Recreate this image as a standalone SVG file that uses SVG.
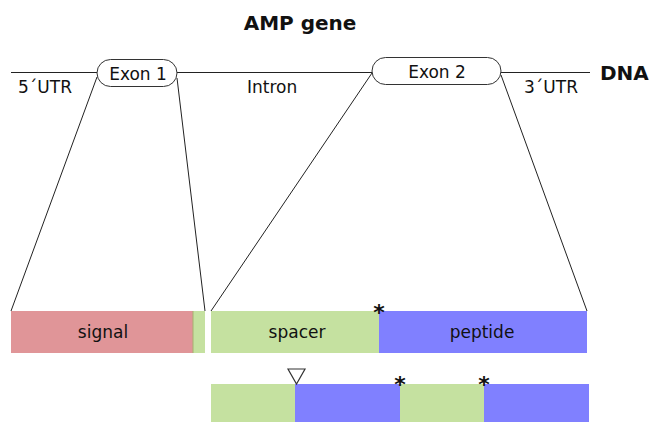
<svg xmlns="http://www.w3.org/2000/svg" width="650" height="423" viewBox="0 0 650 423">
<style>
text{font-family:"DejaVu Sans",Verdana,sans-serif;fill:#111}
.lbl{font-size:17px}
.bold{font-weight:bold;font-size:20px}
.ln{stroke:#222;stroke-width:1;fill:none}
.ex{fill:#fff;stroke:#333;stroke-width:1}
.g{fill:#c5e1a0}
.b{fill:#8080ff}
.p{fill:#e09598}
.ast{font-size:22px;font-weight:bold;text-anchor:middle}
</style>
<rect width="650" height="423" fill="#fff"/>
<text class="bold" x="300" y="30" text-anchor="middle">AMP gene</text>
<g id="connectors">
<line class="ln" x1="11" y1="72.5" x2="97" y2="72.5"/>
<line class="ln" x1="177" y1="72.5" x2="372" y2="72.5"/>
<line class="ln" x1="501" y1="72.5" x2="590" y2="72.5"/>
<line class="ln" x1="97" y1="77" x2="11" y2="311"/>
<line class="ln" x1="177" y1="78" x2="205" y2="311"/>
<line class="ln" x1="372" y1="73" x2="211" y2="311"/>
<line class="ln" x1="501" y1="75" x2="587" y2="311"/>
</g>
<g id="exon1"><rect class="ex" x="97" y="59.5" width="80" height="27" rx="13.5"/><text class="lbl" x="138" y="80" text-anchor="middle">Exon 1</text></g>
<g id="exon2"><rect class="ex" x="372" y="57.5" width="129" height="27" rx="13.5"/><text class="lbl" x="437" y="78" text-anchor="middle">Exon 2</text></g>
<g id="labels">
<text class="lbl" x="18" y="93">5´UTR</text>
<text class="lbl" x="247" y="93">Intron</text>
<text class="lbl" x="524" y="93">3´UTR</text>
<text class="bold" x="600" y="80">DNA</text>
</g>
<g id="bar1">
<rect class="p" x="11" y="311" width="182" height="42"/>
<rect class="g" x="193" y="311" width="12" height="42"/>
<line x1="193" y1="311" x2="193" y2="353" stroke="#a8b070" stroke-width="1"/>
<text class="lbl" x="103" y="338" text-anchor="middle">signal</text>
</g>
<g id="bar2">
<rect class="g" x="211" y="311" width="168" height="42"/>
<rect class="b" x="379" y="311" width="208" height="42"/>
<text class="lbl" x="297" y="338" text-anchor="middle">spacer</text>
<text class="lbl" x="482" y="338" text-anchor="middle">peptide</text>
<text class="ast" x="379" y="320">*</text>
</g>
<g id="bar3">
<rect class="g" x="211" y="384" width="84" height="38"/>
<rect class="b" x="295" y="384" width="105" height="38"/>
<rect class="g" x="400" y="384" width="84" height="38"/>
<rect class="b" x="484" y="384" width="105" height="38"/>
<polygon points="288,369 305,369 296.5,384" fill="#fff" stroke="#333" stroke-width="1.2"/>
<text class="ast" x="400" y="392">*</text>
<text class="ast" x="484" y="392">*</text>
</g>
</svg>
